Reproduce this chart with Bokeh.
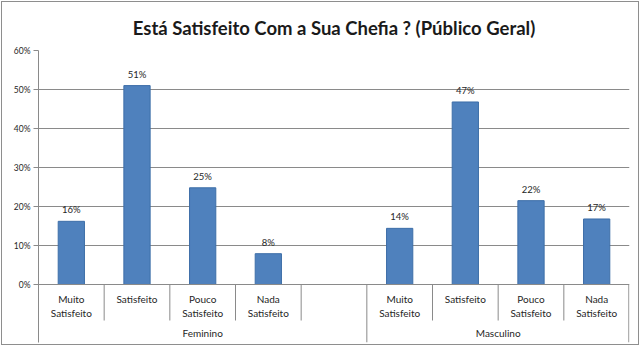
from bokeh.plotting import figure
from bokeh.models import FixedTicker, NumeralTickFormatter, Range1d, ColumnDataSource, Span
from bokeh.core.properties import value
from bokeh.embed import file_html
from bokeh.resources import INLINE

title = "Está Satisfeito Com a Sua Chefia ? (Público Geral)"
groups = ["Feminino", "Masculino"]
categories = ["Muito\nSatisfeito", "Satisfeito", "Pouco\nSatisfeito", "Nada\nSatisfeito"]
feminino = [0.162, 0.51, 0.248, 0.079]
masculino = [0.144, 0.468, 0.215, 0.168]
y_ticks = [0.0, 0.1, 0.2, 0.3, 0.4, 0.5, 0.6]

FONT = "Lato"
GRID = "#8a8a8a"

# slot layout: Feminino has its 4 categories + one empty slot, Masculino 4
fem_slots = [0, 1, 2, 3]
mas_slots = [5, 6, 7, 8]
n_slots = 9
y_bottom = -0.1487

xs = [s + 0.5 for s in fem_slots] + [s + 0.5 for s in mas_slots]
vals = feminino + masculino
labels = [f"{round(v * 100)}%" for v in vals]
src = ColumnDataSource(dict(x=xs, top=vals, label=labels))

p = figure(width=636, height=342, output_backend="svg", toolbar_location=None,
           x_range=Range1d(0, n_slots), y_range=Range1d(y_bottom, 0.6),
           x_axis_location=None, min_border_left=36, min_border_right=11,
           min_border_top=46, min_border_bottom=4, outline_line_color=None)
p.styles = {"border": "1px solid #8e8e8e", "margin": "1px", "box-sizing": "content-box"}

p.title.text = title
p.title.align = "center"
p.title.text_font = FONT
p.title.text_font_style = "bold"
p.title.text_font_size = "18.5px"
p.title.text_color = "#1a1a1a"
p.title.standoff = 24

p.xgrid.visible = False
p.ygrid.ticker = FixedTicker(ticks=y_ticks[1:])
p.ygrid.grid_line_color = GRID

ax = p.yaxis[0]
ax.ticker = FixedTicker(ticks=y_ticks)
ax.formatter = NumeralTickFormatter(format="0%")
ax.bounds = (y_bottom, 0.6)
ax.axis_line_color = GRID
ax.major_tick_line_color = GRID
ax.major_tick_out = 5
ax.major_tick_in = 0
ax.minor_tick_line_color = None
ax.major_label_text_font = FONT
ax.major_label_text_font_size = "8.5px"
ax.major_label_text_color = "#262626"
ax.major_label_standoff = 3

p.add_layout(Span(location=0, dimension="width", line_color=GRID, line_width=1))

p.vbar(x="x", top="top", bottom=0, width=0.4, source=src,
       fill_color="#4F81BD", line_color="#3D6EA8", line_width=1)
p.text(x="x", y="top", text="label", source=src, text_align="center",
       text_baseline="bottom", y_offset=-6, text_font=value(FONT),
       text_font_size="9.5px", text_color="#262626")

# category separators
inner = [1, 2, 3, 4, 6, 7, 8]
edges = [5, n_slots - 0.01]
p.segment(x0=inner, y0=[0] * len(inner), x1=inner, y1=[-0.0923] * len(inner),
          line_color=GRID, line_width=1)
p.segment(x0=edges, y0=[0] * len(edges), x1=edges, y1=[y_bottom] * len(edges),
          line_color=GRID, line_width=1)

cat_x = [s + 0.5 for s in fem_slots] + [s + 0.5 for s in mas_slots]
cat_t = categories + categories
p.text(x=cat_x, y=[-0.021] * len(cat_x), text=cat_t, text_align="center",
       text_baseline="top", text_font=value(FONT), text_font_size="10px",
       text_line_height=1.2, text_color="#262626")

p.text(x=[2.5, 7.0], y=[-0.1256, -0.1256], text=groups, text_align="center",
       text_baseline="middle", text_font=value(FONT), text_font_size="10px",
       text_color="#262626")

open("out.html", "w").write(file_html(p, INLINE))
